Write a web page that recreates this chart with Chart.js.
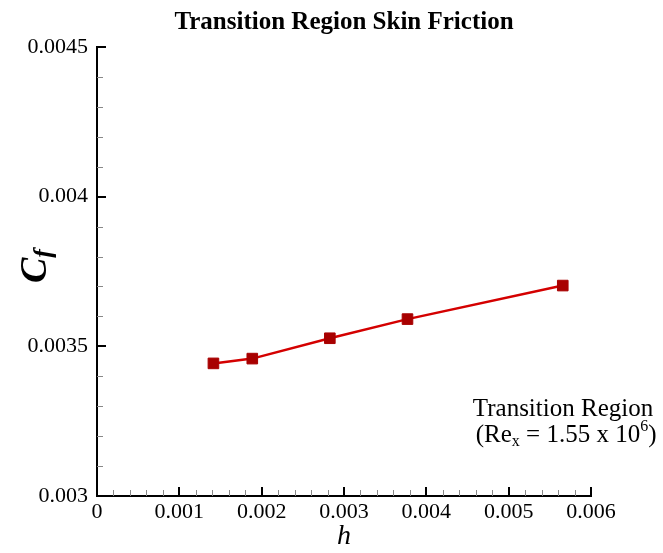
<!DOCTYPE html>
<html>
<head>
<meta charset="utf-8">
<script src="https://cdn.jsdelivr.net/npm/chart.js@4.4.0/dist/chart.umd.min.js"></script>
<style>
  html, body { margin: 0; padding: 0; background: #fff; }
</style>
</head>
<body>
<canvas id="chart" width="663" height="553"></canvas>
<script>
// data
const hValues = [0.001414, 0.001886, 0.002828, 0.003771, 0.005657];
const cfValues = [0.003443, 0.003459, 0.003527, 0.003591, 0.003703];

// axis ticks
const xMajor = [0, 0.001, 0.002, 0.003, 0.004, 0.005, 0.006];
const xLabels = ['0', '0.001', '0.002', '0.003', '0.004', '0.005', '0.006'];
const yMajor = [0.003, 0.0035, 0.004, 0.0045];
const yLabels = ['0.003', '0.0035', '0.004', '0.0045'];

const SERIF = '"Liberation Serif", "Times New Roman", serif';

function majorIndex(v, majors) {
  return majors.findIndex(m => Math.abs(m - v) < 1e-9);
}

// draw a line of text made of runs (normal / sub / sup), centred on cx
function drawRuns(ctx, runs, cx, cy) {
  let total = 0;
  runs.forEach(r => { ctx.font = r.font; r.w = ctx.measureText(r.t).width; total += r.w; });
  let x = cx - total / 2;
  runs.forEach(r => {
    ctx.font = r.font;
    ctx.fillText(r.t, x, cy + (r.dy || 0));
    x += r.w;
  });
}

// inward major/minor tick marks, y axis title and the text note
const axisDecor = {
  id: 'axisDecor',
  afterDraw(chart) {
    const { ctx, chartArea, scales: { x, y } } = chart;
    ctx.save();

    x.ticks.forEach(t => {
      const major = majorIndex(t.value, xMajor) >= 0;
      const px = Math.round(x.getPixelForValue(t.value)) + (major ? 0 : 0.5);
      ctx.lineWidth = major ? 2 : 1;
      ctx.strokeStyle = major ? '#000' : '#888';
      ctx.beginPath();
      ctx.moveTo(px, chartArea.bottom);
      ctx.lineTo(px, chartArea.bottom - (major ? 9 : 6));
      ctx.stroke();
    });

    y.ticks.forEach(t => {
      const major = majorIndex(t.value, yMajor) >= 0;
      const py = Math.round(y.getPixelForValue(t.value)) + (major ? 0 : 0.5);
      ctx.lineWidth = major ? 2 : 1;
      ctx.strokeStyle = major ? '#000' : '#888';
      ctx.beginPath();
      ctx.moveTo(chartArea.left, py);
      ctx.lineTo(chartArea.left + (major ? 9 : 6), py);
      ctx.stroke();
    });

    // C_f, rotated
    ctx.fillStyle = '#000';
    ctx.textBaseline = 'middle';
    ctx.textAlign = 'left';
    ctx.translate(36, 266);
    ctx.rotate(-Math.PI / 2);
    drawRuns(ctx, [
      { t: 'C', font: 'italic bold 38px ' + SERIF },
      { t: 'f', font: 'italic bold 26px ' + SERIF, dy: 8 }
    ], 0, 0);
    ctx.setTransform(1, 0, 0, 1, 0, 0);

    // note at the lower right
    const cx = chartArea.right - 28;
    drawRuns(ctx, [{ t: 'Transition Region', font: '25px ' + SERIF }], cx, chartArea.bottom - 87);
    drawRuns(ctx, [
      { t: ' (Re', font: '25px ' + SERIF },
      { t: 'x', font: '16px ' + SERIF, dy: 7 },
      { t: ' = 1.55 x 10', font: '25px ' + SERIF },
      { t: '6', font: '16px ' + SERIF, dy: -8 },
      { t: ')', font: '25px ' + SERIF }
    ], cx, chartArea.bottom - 61);

    ctx.restore();
  }
};

new Chart(document.getElementById('chart'), {
  type: 'line',
  data: {
    datasets: [{
      data: hValues.map((h, i) => ({ x: h, y: cfValues[i] })),
      borderColor: '#d40000',
      borderWidth: 2.5,
      pointStyle: 'rect',
      pointRadius: 7.5,
      pointBorderWidth: 1,
      pointBackgroundColor: '#a80000',
      pointBorderColor: '#a80000',
      tension: 0
    }]
  },
  options: {
    responsive: false,
    animation: false,
    layout: { padding: { top: 0, right: 72, bottom: 0, left: 0 } },
    plugins: {
      legend: { display: false },
      tooltip: { enabled: false },
      title: {
        display: true,
        fullSize: false,
        text: 'Transition Region Skin Friction',
        color: '#000',
        font: { family: SERIF, size: 25, weight: 'bold' },
        padding: { top: 8, bottom: 9 }
      }
    },
    scales: {
      x: {
        type: 'linear',
        min: 0,
        max: 0.006,
        afterFit: s => { s.height = 57; },
        grid: { drawOnChartArea: false, drawTicks: false },
        border: { display: true, color: '#000', width: 2 },
        ticks: {
          stepSize: 0.0002,
          autoSkip: false,
          maxRotation: 0,
          padding: 3,
          color: '#000',
          font: { family: SERIF, size: 22 },
          callback: v => { const i = majorIndex(v, xMajor); return i >= 0 ? xLabels[i] : ''; }
        },
        title: {
          display: true,
          text: 'h',
          color: '#000',
          font: { family: SERIF, size: 28, style: 'italic' },
          padding: { top: 0, bottom: 0 }
        }
      },
      y: {
        type: 'linear',
        min: 0.003,
        max: 0.0045,
        afterFit: s => { s.width = 97; },
        grid: { drawOnChartArea: false, drawTicks: false },
        border: { display: true, color: '#000', width: 2 },
        ticks: {
          stepSize: 0.0001,
          autoSkip: false,
          padding: 9,
          color: '#000',
          font: { family: SERIF, size: 22 },
          callback: v => { const i = majorIndex(v, yMajor); return i >= 0 ? yLabels[i] : ''; }
        }
      }
    }
  },
  plugins: [axisDecor]
});
</script>
</body>
</html>
